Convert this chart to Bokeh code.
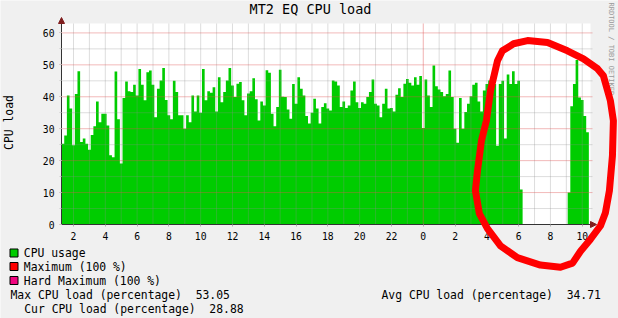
import math
from bokeh.plotting import figure
from bokeh.models import (Range1d, FixedTicker, SingleIntervalTicker, Label,
                          Arrow, NormalHead, PolyAnnotation, BoxAnnotation)
from bokeh.embed import file_html
from bokeh.resources import INLINE

# ---------------- data ----------------
TITLE = "MT2 EQ CPU load"
Y_LABEL = "CPU load"
WATERMARK = "RRDTOOL / TOBI OETIKER"

start_hour = 1.25          # hours since midnight of day 1
step_hours = 1.0 / 6.0     # 10 minute samples

cpu_usage = [
    25.3, 27.9, 40.4, 36.3, 24.8, 40.9, 48.0, 25.8, 26.9, 25.3,
    23.4, 28.0, 30.8, 38.5, 32.0, 34.7, 34.7, 31.0, 21.7, 21.1,
    47.9, 33.0, 19.1, 39.6, 44.8, 41.7, 41.5, 43.8, 40.4, 48.7,
    43.8, 38.9, 47.7, 48.2, 43.8,
    33.6, 42.5, 45.1, 49.0, 39.0, 34.2, 33.0, 45.0, 41.5, 34.2,
    34.2, 30.0, 34.2, 32.0, 40.4, 35.4, 40.4, 35.0, 48.7, 38.9,
    41.7, 41.3, 43.0, 35.4, 46.1, 38.3, 41.5, 45.1, 49.0, 43.5,
    39.9, 44.1, 44.6, 38.9, 34.2,
    41.0, 41.7, 45.8, 39.2, 32.6, 38.5, 37.3, 48.3, 47.5, 34.7,
    30.8, 36.8, 48.5, 40.0, 39.9, 36.0, 33.1, 44.0, 37.8, 46.1,
    42.5, 40.4, 34.0, 31.6, 35.0, 39.4, 36.3, 31.6, 36.8, 38.0,
    36.3, 35.7, 45.1, 44.8, 43.5,
    36.8, 38.5, 36.5, 37.3, 42.0, 44.8, 38.3, 36.5, 38.3, 37.8,
    39.9, 41.5, 45.4, 37.8, 37.3, 33.6, 37.8, 42.5, 36.3, 36.5,
    35.4, 40.6, 42.7, 39.9, 44.1, 45.6, 44.4, 43.5, 46.1, 43.8,
    46.5, 30.2, 45.4, 40.4, 36.8,
    49.8, 43.3, 42.3, 41.5, 40.2, 40.9, 48.2, 39.9, 30.0, 25.6,
    39.6, 30.0, 35.2, 37.8, 40.2, 43.8, 44.4, 38.5, 35.4, 42.0,
    44.0, 45.1, 46.5, 44.0, 24.7, 44.0, 45.0, 26.9, 47.0, 44.0,
    48.0, 44.0, 45.0, 11.0,
    0, 0, 0, 0, 0, 0, 0, 0, 0, 0, 0, 0, 0, 0, 0, 0, 0,
    10.0, 37.0, 44.0, 51.5, 39.8, 39.0, 34.0, 28.9,
]

hour_ticks = [2, 4, 6, 8, 10, 12, 14, 16, 18, 20, 22, 24, 26, 28, 30, 32, 34]
hour_labels = ["2", "4", "6", "8", "10", "12", "14", "16", "18", "20", "22",
               "0", "2", "4", "6", "8", "10"]
day_boundary_hour = 24

legend_names = ["CPU usage", "Maximum (100 %)", "Hard Maximum (100 %)"]
legend_colors = ["#00CC00", "#FF0000", "#F0047F"]

max_load = 53.05
avg_load = 34.71
cur_load = 28.88

# hand-drawn red annotation loop (hours, percent)
scribble_hours = [27.97, 28.23, 28.67, 28.98, 29.68, 30.56, 31.82, 33.07, 34.08, 34.96,
                  35.33, 35.77, 35.96, 35.90, 35.71, 35.46, 35.15, 34.52, 33.89, 33.39,
                  32.63, 31.37, 29.92, 28.86, 28.04, 27.53, 27.28, 27.41, 27.66]
scribble_values = [32.5, 41.9, 51.3, 54.4, 56.6, 57.6, 57.0, 54.4, 51.9, 48.8,
                   46.6, 38.8, 32.5, 21.5, 10.6, 3.7, -0.4, -4.6, -8.4, -12.1,
                   -13.4, -12.7, -10.4, -6.7, -1.3, 3.4, 10.6, 16.8, 26.2]

# ---------------- layout ----------------
W, H = 618, 318
PX_LEFT, PX_RIGHT, PX_TOP, PX_BOTTOM = 61, 590, 23, 224   # chart area in the image
X0, X1 = 1.245, 34.52
Y0, Y1 = 0.0, 62.95
kx = (PX_RIGHT - PX_LEFT) / (X1 - X0)
ky = (PX_BOTTOM - PX_TOP) / (Y1 - Y0)
XR0 = X0 - PX_LEFT / kx
XR1 = X1 + (W - PX_RIGHT) / kx
YR0 = Y0 - (H - PX_BOTTOM) / ky
YR1 = Y1 + PX_TOP / ky

MONO = "DejaVu Sans Mono"
BG = "#F0F0F0"
GRID = "#8F8F8F"
MGRID = "#DE5050"
ARROW = "#801F1F"


def dx(px):
    return XR0 + px / kx


def dy(py):
    return YR1 - py / ky


p = figure(width=W, height=H, x_range=Range1d(XR0, XR1), y_range=Range1d(YR0, YR1),
           output_backend="svg", toolbar_location=None, min_border=0)
p.title.visible = False
p.background_fill_color = BG
p.border_fill_color = BG
p.outline_line_color = None
p.xgrid.visible = False
p.ygrid.visible = False

# white canvas of the graph
p.add_layout(BoxAnnotation(left=X0, right=X1, bottom=Y0, top=Y1, fill_color="white",
                           fill_alpha=1, line_alpha=0, level="underlay"))

# CPU usage area
edges = [start_hour + i * step_hours for i in range(len(cpu_usage) + 1)]
p.varea_step(x=edges, y1=[0] * len(edges), y2=cpu_usage + [cpu_usage[-1]],
             step_mode="after", fill_color="#00CC00")

# grid (drawn on top of the data, like rrdtool)
hours = [h for h in range(2, 35) if h != day_boundary_hour]
p.segment(x0=hours, y0=[Y0] * len(hours), x1=hours, y1=[Y1] * len(hours),
          line_color=GRID, line_alpha=0.3, line_width=1)
minor_vals = [v for v in range(5, 61, 10)]
major_vals = [v for v in range(10, 61, 10)]
xe = X1 + 2 / kx
p.segment(x0=[X0] * len(minor_vals), y0=minor_vals, x1=[xe] * len(minor_vals), y1=minor_vals,
          line_color=GRID, line_alpha=0.3, line_width=1)
p.segment(x0=[X0] * len(major_vals), y0=major_vals, x1=[xe] * len(major_vals), y1=major_vals,
          line_color=MGRID, line_alpha=0.4, line_width=1)
p.segment(x0=[day_boundary_hour], y0=[Y0], x1=[day_boundary_hour], y1=[Y1],
          line_color=MGRID, line_alpha=0.45, line_width=1)

# axes, fixed inside the frame
for ax in (p.xaxis, p.yaxis):
    ax.axis_line_color = "#333333"
    ax.major_tick_in = 0
    ax.major_tick_out = 2
    ax.minor_tick_in = 0
    ax.major_label_text_font = MONO
    ax.major_label_text_font_size = "9.7px"
    ax.major_label_text_color = "black"

p.xaxis.fixed_location = 0
p.xaxis.bounds = (X0, X1)
p.xaxis.ticker = FixedTicker(ticks=hour_ticks)
p.xaxis.major_label_overrides = {t: l for t, l in zip(hour_ticks, hour_labels)}
p.xaxis.major_label_standoff = 5
p.xaxis.major_tick_line_color = "#B0B0B0"
p.xaxis.minor_tick_line_color = None

p.yaxis.fixed_location = X0
p.yaxis.bounds = (Y0, Y1)
p.yaxis.ticker = SingleIntervalTicker(interval=10, num_minor_ticks=2)
p.yaxis.major_label_standoff = 5
p.yaxis.major_tick_line_color = "#E8A0A0"
p.yaxis.minor_tick_out = 2
p.yaxis.minor_tick_line_color = "#CCCCCC"

# axis arrows
p.add_layout(Arrow(end=NormalHead(size=6, fill_color=ARROW, line_color=ARROW, line_width=1),
                   x_start=X0, y_start=Y1 - 0.5, x_end=X0, y_end=Y1 + 6 / ky,
                   line_alpha=0))
p.add_layout(Arrow(end=NormalHead(size=6, fill_color=ARROW, line_color=ARROW, line_width=1),
                   x_start=X1 - 0.05, y_start=0, x_end=X1 + 6 / kx, y_end=0,
                   line_alpha=0))


def label(text, px, py, size, color="black", align="left", angle=0.0, font=MONO):
    p.add_layout(Label(x=dx(px), y=dy(py), text=text, text_font=font,
                       text_font_size=size, text_color=color, text_align=align,
                       text_baseline="middle", angle=angle))


label(TITLE, 310, 8, "13.5px", align="center")
label(Y_LABEL, 8, 122, "11.4px", align="center", angle=math.pi / 2)
label(WATERMARK, 610, 2, "7px", color="#9A9A9A", align="left", angle=-math.pi / 2)

legend_rows = [252.5, 266, 280]
for name, col, yc in zip(legend_names, legend_colors, legend_rows):
    p.add_layout(BoxAnnotation(left=dx(9.5), right=dx(17.5), top=dy(yc - 4), bottom=dy(yc + 4),
                               fill_color=col, fill_alpha=1, line_color="black",
                               line_alpha=1, line_width=1))
    label(name, 23.3, yc, "11.4px")

NB = "\u00a0"
label(f"Max CPU load (percentage){NB}{NB}{max_load:.2f}", 10, 294, "11.4px")
label(f"Cur CPU load (percentage){NB}{NB}{cur_load:.2f}", 23.7, 308.5, "11.4px")
label(f"Avg CPU load (percentage){NB}{NB}{avg_load:.2f}", 381, 294, "11.4px")

# red annotation loop drawn over everything
p.add_layout(PolyAnnotation(xs=scribble_hours, ys=scribble_values,
                            fill_alpha=0, line_color="#FF0000", line_alpha=1, line_width=7,
                            line_join="round", level="overlay"))

open("out.html", "w").write(file_html(p, INLINE))
